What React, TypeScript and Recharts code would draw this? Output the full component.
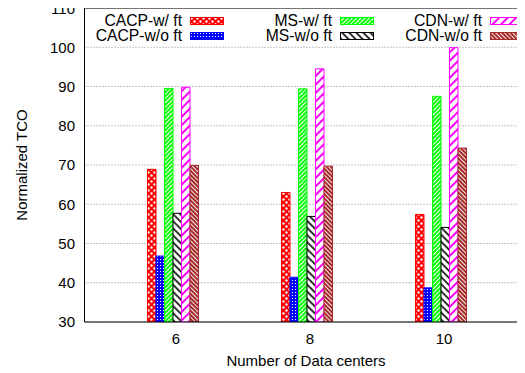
import { BarChart, Bar, XAxis, YAxis, CartesianGrid, ReferenceLine, Label } from 'recharts'

const centers = ['6', '8', '10']
const cacpWithFt = [68.9, 63.0, 57.4]
const cacpWithoutFt = [46.8, 41.4, 38.7]
const msWithFt = [89.5, 89.4, 87.5]
const msWithoutFt = [57.7, 56.9, 54.1]
const cdnWithFt = [89.8, 94.5, 99.9]
const cdnWithoutFt = [69.9, 69.7, 74.3]
const yTicks = [30, 40, 50, 60, 70, 80, 90, 100, 110]

const series = [
  { key: 'cacpW', name: 'CACP-w/ ft', color: '#ff0000', fill: 'url(#pRed)', values: cacpWithFt },
  { key: 'cacpWo', name: 'CACP-w/o ft', color: '#0000ff', fill: 'url(#pBlue)', values: cacpWithoutFt },
  { key: 'msW', name: 'MS-w/ ft', color: '#00ff00', fill: 'url(#pGreen)', values: msWithFt },
  { key: 'msWo', name: 'MS-w/o ft', color: '#000000', fill: 'url(#pBlack)', values: msWithoutFt },
  { key: 'cdnW', name: 'CDN-w/ ft', color: '#ff00ff', fill: 'url(#pMagenta)', values: cdnWithFt },
  { key: 'cdnWo', name: 'CDN-w/o ft', color: '#a52a2a', fill: 'url(#pBrown)', values: cdnWithoutFt },
]

const data = centers.map((c, i) => {
  const row: Record<string, string | number> = { centers: c }
  series.forEach((s) => (row[s.key] = s.values[i]))
  return row
})

const font = '"Liberation Sans", Arial, Helvetica, sans-serif'

// gnuplot-style key: 3 columns x 2 rows
const keyTextRight = [182, 332, 482]
const keySwatchLeft = [190, 340, 490]
const keyRowY = [21, 35.5]

function Key() {
  return (
    <div style={{ position: 'absolute', left: 0, top: 0, width: 525, height: 45, fontFamily: font, fontSize: 15.7 }}>
      {series.map((s, i) => {
        const col = Math.floor(i / 2)
        const row = i % 2
        return (
          <div key={s.key}>
            <span
              style={{
                position: 'absolute',
                right: 525 - keyTextRight[col],
                top: keyRowY[row] - 7,
                height: 14,
                lineHeight: '14px',
                whiteSpace: 'nowrap',
                color: '#000',
              }}
            >
              {s.name}
            </span>
            <svg
              width={34}
              height={8}
              style={{ position: 'absolute', left: keySwatchLeft[col], top: keyRowY[row] - 4 }}
            >
              <rect x={0.5} y={0.5} width={33} height={7} fill={s.fill} stroke={s.color} />
            </svg>
          </div>
        )
      })}
    </div>
  )
}

export default function App() {
  return (
    <div style={{ position: 'relative', margin: '-8px 0 0 -8px', width: 545, height: 373, background: '#fff' }}>
      <BarChart
        width={545}
        height={373}
        data={data}
        margin={{ top: 8, right: 16.5, left: 0, bottom: 0 }}
        barGap={0}
        barSize={8.5}
      >
        <defs>
          <pattern id="pRed" width="6" height="6" patternUnits="userSpaceOnUse">
            <rect width="6" height="6" fill="#ff0000" />
            <circle cx="1.5" cy="1.5" r="1.2" fill="#fff" />
            <circle cx="4.5" cy="4.5" r="1.2" fill="#fff" />
          </pattern>
          <pattern id="pBlue" width="3" height="3" patternUnits="userSpaceOnUse">
            <rect width="3" height="3" fill="#0000ff" />
            <rect x="1" y="1" width="1" height="1" fill="#fff" />
          </pattern>
          <pattern id="pGreen" width="3" height="3" patternUnits="userSpaceOnUse" patternTransform="rotate(45)">
            <rect width="3" height="3" fill="#00ff00" />
            <line x1="0.5" y1="0" x2="0.5" y2="3" stroke="#fff" strokeWidth="1" />
          </pattern>
          <pattern id="pBlack" width="5" height="5" patternUnits="userSpaceOnUse" patternTransform="rotate(-45)">
            <rect width="5" height="5" fill="#fff" />
            <line x1="1" y1="0" x2="1" y2="5" stroke="#000" strokeWidth="1.6" />
          </pattern>
          <pattern id="pMagenta" width="6" height="6" patternUnits="userSpaceOnUse" patternTransform="rotate(45)">
            <rect width="6" height="6" fill="#fff" />
            <line x1="1" y1="0" x2="1" y2="6" stroke="#ff00ff" strokeWidth="2" />
          </pattern>
          <pattern id="pBrown" width="3" height="3" patternUnits="userSpaceOnUse" patternTransform="rotate(-45)">
            <rect width="3" height="3" fill="#a52a2a" />
            <line x1="0.5" y1="0" x2="0.5" y2="3" stroke="#fff" strokeWidth="0.9" />
          </pattern>
        </defs>
        <CartesianGrid vertical={false} stroke="#888" strokeDasharray="1 2" />
        <XAxis
          dataKey="centers"
          height={51}
          padding={{ left: 21, right: 21 }}
          tickLine={false}
          axisLine={{ stroke: '#000' }}
          tick={{ fill: '#000', fontSize: 15, fontFamily: font, dx: 3.5 }}
          tickMargin={5}
        >
          <Label
            content={() => (
              <text x={306} y={366} textAnchor="middle" fontSize={15} fontFamily={font} fill="#000">
                Number of Data centers
              </text>
            )}
          />
        </XAxis>
        <YAxis
          width={84.5}
          domain={[30, 110]}
          ticks={yTicks}
          allowDataOverflow
          tickLine={false}
          axisLine={{ stroke: '#000' }}
          tick={{ fill: '#000', fontSize: 15, fontFamily: font }}
          tickMargin={3.5}
        >
          <Label
            content={() => (
              <text
                x={21}
                y={165}
                transform="rotate(-90 21 165)"
                textAnchor="middle"
                dominantBaseline="central"
                fontSize={15}
                fontFamily={font}
                fill="#000"
              >
                Normalized TCO
              </text>
            )}
          />
        </YAxis>
        <ReferenceLine y={110} stroke="#000" />
        {series.map((s) => (
          <Bar
            key={s.key}
            dataKey={s.key}
            name={s.name}
            fill={s.fill}
            stroke={s.color}
            strokeWidth={1}
            isAnimationActive={false}
          />
        ))}
      </BarChart>
      <Key />
    </div>
  )
}
